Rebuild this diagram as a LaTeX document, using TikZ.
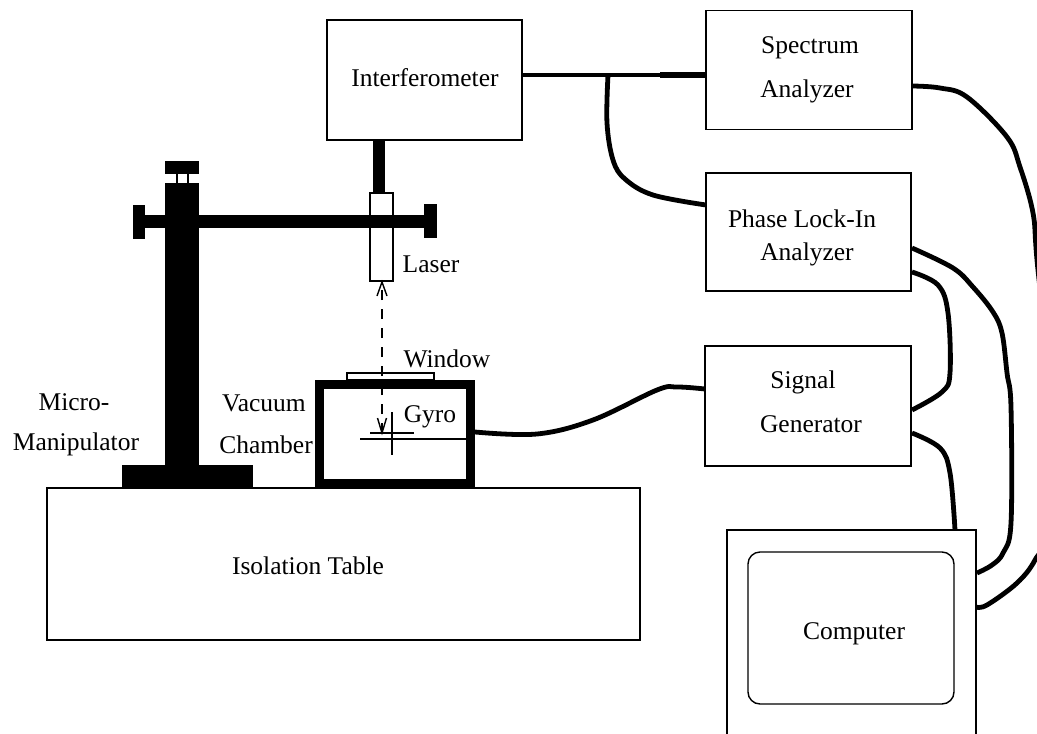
\documentclass[tikz,border=0pt]{standalone}
\usepackage{fontspec}
\setmainfont{Liberation Serif}
\usetikzlibrary{arrows.meta}
\tikzset{
  x=1pt,y=-1pt,
  boxnode/.style={draw=black,line width=1.4pt,fill=white,inner sep=0pt,outer sep=0pt,rounded corners=0pt},
  lab/.style={anchor=base,inner sep=0pt,outer sep=0pt,font=\fontsize{25.5}{30}\selectfont,text=black},
  cable/.style={draw=black,line width=4.8pt,line join=round,line cap=butt},
  solid part/.style={fill=black,draw=none},
  thin part/.style={draw=black,line width=1.5pt},
  beam/.style={draw=black,line width=1.4pt,dash pattern=on 10pt off 9pt},
  barb/.style={draw=black,line width=1.4pt,line join=miter}
}
\begin{document}
\begin{tikzpicture}
\fill[white] (0,0) rectangle (1037,734);
\clip[use as bounding box] (0,0) rectangle (1037,734);

% instrument boxes
\node[boxnode,minimum width=195pt,minimum height=120pt] (interf) at (424.5,80) {};
\node[boxnode,minimum width=206pt,minimum height=119pt] (spec) at (809,70) {};
\node[boxnode,minimum width=205pt,minimum height=118pt] (phase) at (808.5,232) {};
\node[boxnode,minimum width=206pt,minimum height=120pt] (sig) at (808,406) {};
\node[boxnode,minimum width=593pt,minimum height=152pt] (table) at (343.5,564) {};
\node[boxnode,minimum width=249pt,minimum height=224pt] (comp) at (851.5,642) {};
\node[boxnode,rounded corners=12pt,minimum width=206pt,minimum height=152pt] (screen) at (851,628) {};

% laser, under the arm
\node[boxnode,minimum width=23pt,minimum height=88pt] (laser) at (381.5,237) {};

% micro-manipulator
\fill[solid part] (165,183) rectangle (199,466);
\fill[solid part] (165,161) rectangle (199,174);
\draw[thin part] (177,174) -- (177,183) (188,174) -- (188,183);
\fill[solid part] (133,205) rectangle (145,239);
\fill[solid part] (145,215) rectangle (424,228);
\fill[solid part] (424,204) rectangle (437,238);
\fill[solid part] (122,465) rectangle (253,488);

% interferometer to laser
\fill[solid part] (373,140.5) rectangle (385,193);

% vacuum chamber
\node[draw=black,line width=9pt,fill=white,inner sep=0pt,outer sep=0pt,minimum width=151pt,minimum height=99pt] (chamber) at (394.5,433.5) {};
\node[boxnode,minimum width=87pt,minimum height=7pt] (window) at (390.5,376.5) {};

% gyro
\coordinate (gyroA) at (370,433);
\coordinate (gyroB) at (414,433);
\coordinate (gyroC) at (360,439);
\coordinate (gyroD) at (392,412);
\coordinate (gyroE) at (392,455);
\draw[thin part] (gyroA) -- (gyroB);
\draw[thin part] (gyroC) -- (chamber.east |- gyroC);
\draw[thin part] (gyroD) -- (gyroE);

% laser beam
\coordinate (beamTop) at (382,286);
\coordinate (beamEnd) at (382,433);
\draw[beam] (beamEnd) -- (beamTop);
\draw[barb] (377,296) -- (382,282) -- (387,296);
\draw[barb] (377.5,418) -- (382,433) -- (386.5,418);

% cables
\coordinate (iR) at (522,75);
\coordinate (sL) at (706,75);
\coordinate (branch) at (608,75);
\draw[cable,line width=4pt] (iR) -- (sL);
\draw[cable,line width=5.5pt] (660,75) -- (sL);
\draw[cable] plot[smooth,tension=0.6] coordinates {(branch) (607,123) (613,160) (625,179) (653,195) (706,205)};
\draw[cable] plot[smooth,tension=0.6] coordinates {(912,86) (940,88) (967,97) (1007,137) (1020,167) (1033,213) (1037,260) (1050,400) (1045,530) (1035,560) (1017,583) (987,605) (976,607)};
\draw[cable] plot[smooth,tension=0.6] coordinates {(912,248) (953,268) (973,287) (993,312) (1002,333) (1007,373) (1011,407) (1011,523) (1003,553) (992,565) (977,573)};
\draw[cable] plot[smooth,tension=0.6] coordinates {(912,272) (938,285) (948,313) (950,373) (942,392) (912,410)};
\draw[cable] plot[smooth,tension=0.6] coordinates {(912,433) (940,448) (950,473) (955,530)};
\draw[cable] plot[smooth,tension=0.6] coordinates {(475,432) (537,434) (593,420) (657,390) (677,387) (705,389)};

% labels
\node[lab] (tInterf) at (425,86) {Interferometer};
\node[lab] (tSpec1) at (810,53) {Spectrum};
\node[lab] (tSpec2) at (807,97) {Analyzer};
\node[lab] (tPhase1) at (802,227) {Phase Lock-In};
\node[lab] (tPhase2) at (807,260) {Analyzer};
\node[lab] (tSig1) at (803,388) {Signal};
\node[lab] (tSig2) at (811,432) {Generator};
\node[lab] (tLaser) at (431,272) {Laser};
\node[lab] (tWindow) at (447,367) {Window};
\node[lab] (tGyro) at (430,422) {Gyro};
\node[lab] (tVac1) at (264,411) {Vacuum};
\node[lab] (tVac2) at (266,453) {Chamber};
\node[lab] (tMicro1) at (74,410) {Micro-};
\node[lab] (tMicro2) at (76,450) {Manipulator};
\node[lab] (tTable) at (308,574) {Isolation Table};
\node[lab] (tComp) at (854,639) {Computer};
\end{tikzpicture}
\end{document}
